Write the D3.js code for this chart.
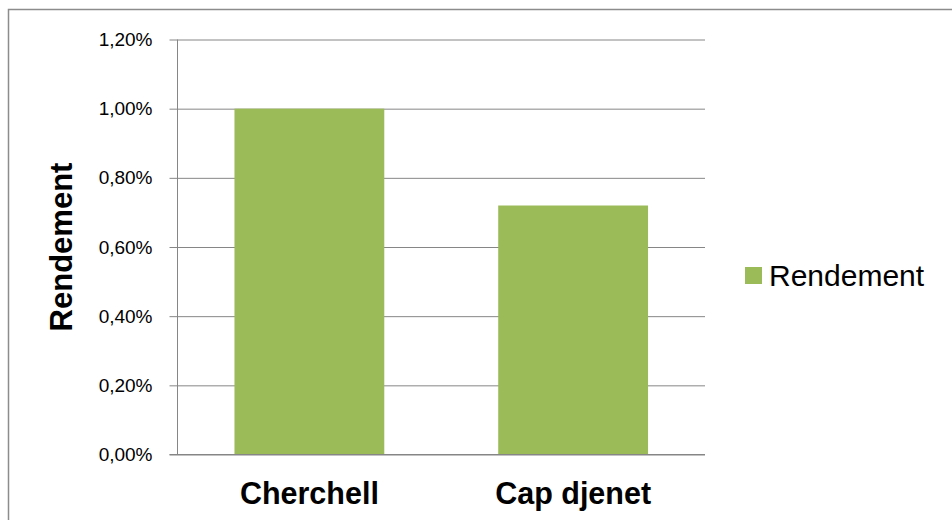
<!DOCTYPE html>
<html>
<head>
<meta charset="utf-8">
<script src="https://cdn.jsdelivr.net/npm/d3@7/dist/d3.min.js"></script>
<style>
  html, body { margin: 0; padding: 0; background: #fff; }
  svg { display: block; }
</style>
</head>
<body>
<svg id="chart" width="952" height="520"></svg>
<script>
const categories = ["Cherchell", "Cap djenet"];
const values = [0.0100, 0.0072];
const seriesName = "Rendement";
const yTicks = [0, 0.002, 0.004, 0.006, 0.008, 0.010, 0.012];
const yTitle = "Rendement";

(function () {
const svg = d3.select("#chart");
const W = 952, H = 520;
const pLeft = 177.5, pRight = 705, pTop = 39.5, pBottom = 454.5;

const fr = d3.formatLocale({decimal: ",", thousands: " ", grouping: [3], currency: ["", " €"]});
const fmt = fr.format(".2%");

// outer border
svg.append("rect")
  .attr("x", 8.5).attr("y", 9.5)
  .attr("width", W + 20).attr("height", H + 20)
  .attr("fill", "#fff").attr("stroke", "#8c8c8c").attr("stroke-width", 1.5);

const y = d3.scaleLinear().domain([0, 0.012]).range([pBottom, pTop]);
const x = d3.scaleBand().domain(categories).range([pLeft, pRight])
  .paddingInner(0.432).paddingOuter(0.216);

// gridlines with ticks
const yAxis = d3.axisLeft(y).tickValues(yTicks).tickFormat(fmt)
  .tickSize(-(pRight - pLeft)).tickSizeOuter(0).tickPadding(17);
const gy = svg.append("g").attr("transform", `translate(${pLeft},0)`).call(yAxis);
gy.select(".domain").remove();
gy.selectAll(".tick line").attr("stroke", "#868686").attr("stroke-width", 1).attr("x1", -8);
gy.selectAll(".tick text")
  .attr("font-family", "'Liberation Sans', Arial, sans-serif")
  .attr("font-size", 19).attr("fill", "#000").attr("x", -25);

// bars
svg.append("g").selectAll("rect.bar").data(categories).join("rect")
  .attr("class", "bar")
  .attr("x", d => x(d))
  .attr("width", x.bandwidth())
  .attr("y", (d, i) => y(values[i]))
  .attr("height", (d, i) => y(0) - y(values[i]))
  .attr("fill", "#9BBB59");

// axis lines
svg.append("line").attr("x1", pLeft).attr("x2", pLeft).attr("y1", pTop).attr("y2", pBottom)
  .attr("stroke", "#868686").attr("stroke-width", 1);
svg.append("line").attr("x1", pLeft - 8).attr("x2", pRight).attr("y1", y(0)).attr("y2", y(0))
  .attr("stroke", "#868686").attr("stroke-width", 1);

// x labels
svg.append("g").selectAll("text").data(categories).join("text")
  .attr("x", d => x(d) + x.bandwidth() / 2)
  .attr("y", 504)
  .attr("text-anchor", "middle")
  .attr("font-family", "'Liberation Sans', Arial, sans-serif")
  .attr("font-weight", "bold")
  .attr("font-size", 30.5)
  .attr("fill", "#000")
  .text(d => d);

// y title
svg.append("text")
  .attr("transform", `translate(72,${(pTop + pBottom) / 2}) rotate(-90)`)
  .attr("text-anchor", "middle")
  .attr("font-family", "'Liberation Sans', Arial, sans-serif")
  .attr("font-weight", "bold")
  .attr("font-size", 31)
  .attr("fill", "#000")
  .text(yTitle);

// legend
const lg = svg.append("g");
lg.append("rect").attr("x", 745).attr("y", 267).attr("width", 17).attr("height", 17).attr("fill", "#9BBB59");
lg.append("text").attr("x", 769).attr("y", 285.5)
  .attr("font-family", "'Liberation Sans', Arial, sans-serif")
  .attr("font-size", 30).attr("fill", "#000")
  .text(seriesName);
})();
</script>
</body>
</html>
